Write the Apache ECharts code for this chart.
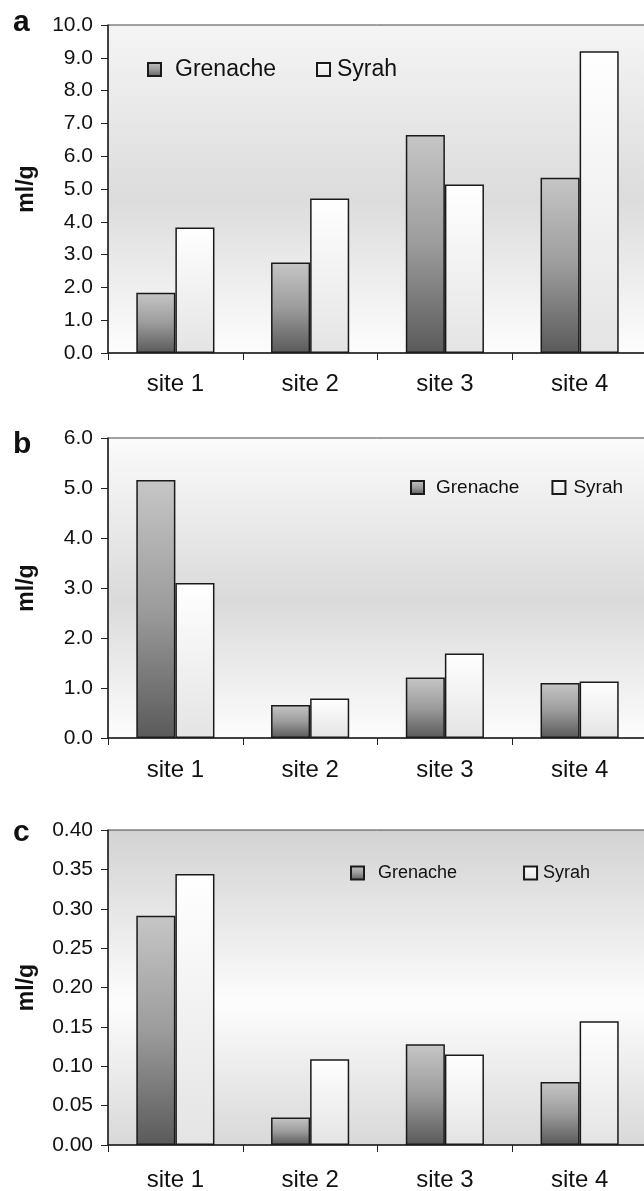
<!DOCTYPE html>
<html>
<head>
<meta charset="utf-8">
<script src="https://cdn.jsdelivr.net/npm/echarts@6/dist/echarts.min.js"></script>
<style>
html,body{margin:0;padding:0;background:#fff;}
#chart{width:644px;height:1191px;}
</style>
</head>
<body>
<div id="chart"></div>
<script>
var categories = ['site 1', 'site 2', 'site 3', 'site 4'];
var seriesNames = ['Grenache', 'Syrah'];
var panelLetters = ['a', 'b', 'c'];
var yAxisTitle = 'ml/g';

var grenacheA = [1.84, 2.76, 6.65, 5.34];
var syrahA    = [3.83, 4.71, 5.14, 9.20];
var grenacheB = [5.16, 0.66, 1.21, 1.10];
var syrahB    = [3.10, 0.79, 1.69, 1.13];
var grenacheC = [0.291, 0.035, 0.128, 0.080];
var syrahC    = [0.344, 0.109, 0.115, 0.157];

var yMaxes = [10, 6, 0.4];
var yIntervals = [1, 1, 0.05];
var yDecimals = [1, 1, 2];

var FONT = '"Liberation Sans", Arial, Helvetica, sans-serif';

function lg(stops) {
  return new echarts.graphic.LinearGradient(0, 0, 0, 1, stops.map(function (s) { return { offset: s[0], color: s[1] }; }));
}
var grenacheFill = function () { return lg([[0, '#c6c6c6'], [0.5, '#9c9c9c'], [1, '#5a5a5a']]); };
var syrahFill = function () { return lg([[0, '#ffffff'], [1, '#e4e4e4']]); };

var grids = [
  { top: 25, height: 328, labelMargin: 19 },
  { top: 438, height: 300, labelMargin: 20 },
  { top: 830, height: 315, labelMargin: 23 }
];
var bgStops = [
  [[0, '#f5f5f5'], [0.53, '#dcdcdc'], [1, '#fdfdfd']],
  [[0, '#fbfbfb'], [0.54, '#dadada'], [1, '#fdfdfd']],
  [[0, '#d2d2d2'], [0.55, '#fdfdfd'], [1, '#d8d8d8']]
];

var gridOpts = grids.map(function (g, i) {
  return {
    show: true, left: 108, width: 539, top: g.top, height: g.height,
    backgroundColor: lg(bgStops[i]), borderColor: '#444', borderWidth: 1,
    containLabel: false, outerBoundsMode: 'none'
  };
});

var xAxes = grids.map(function (g, i) {
  return {
    type: 'category', gridIndex: i, data: categories,
    axisLine: { lineStyle: { color: '#222', width: 1.5 } },
    axisTick: { show: true, length: 7, inside: false, lineStyle: { color: '#222', width: 1 } },
    axisLabel: { color: '#111', fontFamily: FONT, fontSize: 24, margin: g.labelMargin }
  };
});

var yAxes = grids.map(function (g, i) {
  return {
    type: 'value', gridIndex: i, min: 0, max: yMaxes[i], interval: yIntervals[i],
    name: yAxisTitle, nameLocation: 'middle', nameGap: 70, nameRotate: 90,
    nameTextStyle: { fontFamily: FONT, fontWeight: 'bold', fontSize: 23, color: '#111' },
    axisLine: { show: true, lineStyle: { color: '#222', width: 1.5 } },
    axisTick: { show: true, length: 7, lineStyle: { color: '#222', width: 1 } },
    splitLine: { show: false },
    axisLabel: {
      color: '#111', fontFamily: FONT, fontSize: 21, margin: 15,
      formatter: (function (d) { return function (v) { return v.toFixed(d); }; })(yDecimals[i])
    }
  };
});

var dataSets = [[grenacheA, syrahA], [grenacheB, syrahB], [grenacheC, syrahC]];
var series = [];
dataSets.forEach(function (pair, i) {
  pair.forEach(function (vals, k) {
    series.push({
      type: 'bar', name: seriesNames[k], xAxisIndex: i, yAxisIndex: i, data: vals,
      barGap: '0%', barCategoryGap: '42%',
      itemStyle: { color: k === 0 ? grenacheFill() : syrahFill(), borderColor: '#1a1a1a', borderWidth: 1.5 },
      emphasis: { disabled: true },
      animation: false
    });
  });
});

var legendPos = [
  { left: 147, top: 58, fontSize: 23, itemGap: 40, pad: [9, 2] },
  { left: 410, top: 478, fontSize: 19, itemGap: 32, pad: [7, 3] },
  { left: 350, top: 864, fontSize: 18, itemGap: 66, pad: [9, 1] }
];
var legends = legendPos.map(function (p) {
  return {
    left: p.left, top: p.top, orient: 'horizontal', itemGap: p.itemGap, padding: 0,
    itemWidth: 13, itemHeight: 13, icon: 'rect', selectedMode: false,
    data: [
      { name: 'Grenache', textStyle: { padding: [0, 0, 0, p.pad[0]] } },
      { name: 'Syrah', textStyle: { padding: [0, 0, 0, p.pad[1]] } }
    ],
    textStyle: { fontFamily: FONT, fontSize: p.fontSize, color: '#111' }
  };
});

var letterTops = [25, 447, 835];
var graphics = panelLetters.map(function (L, i) {
  return {
    type: 'text', left: 13, top: letterTops[i] - 17,
    style: { text: L, fontFamily: FONT, fontWeight: 'bold', fontSize: 30, fill: '#111' }
  };
});

var chart = echarts.init(document.getElementById('chart'), null, { renderer: 'canvas' });
chart.setOption({
  animation: false,
  backgroundColor: '#ffffff',
  grid: gridOpts,
  xAxis: xAxes,
  yAxis: yAxes,
  legend: legends,
  series: series,
  graphic: graphics
});
</script>
</body>
</html>
